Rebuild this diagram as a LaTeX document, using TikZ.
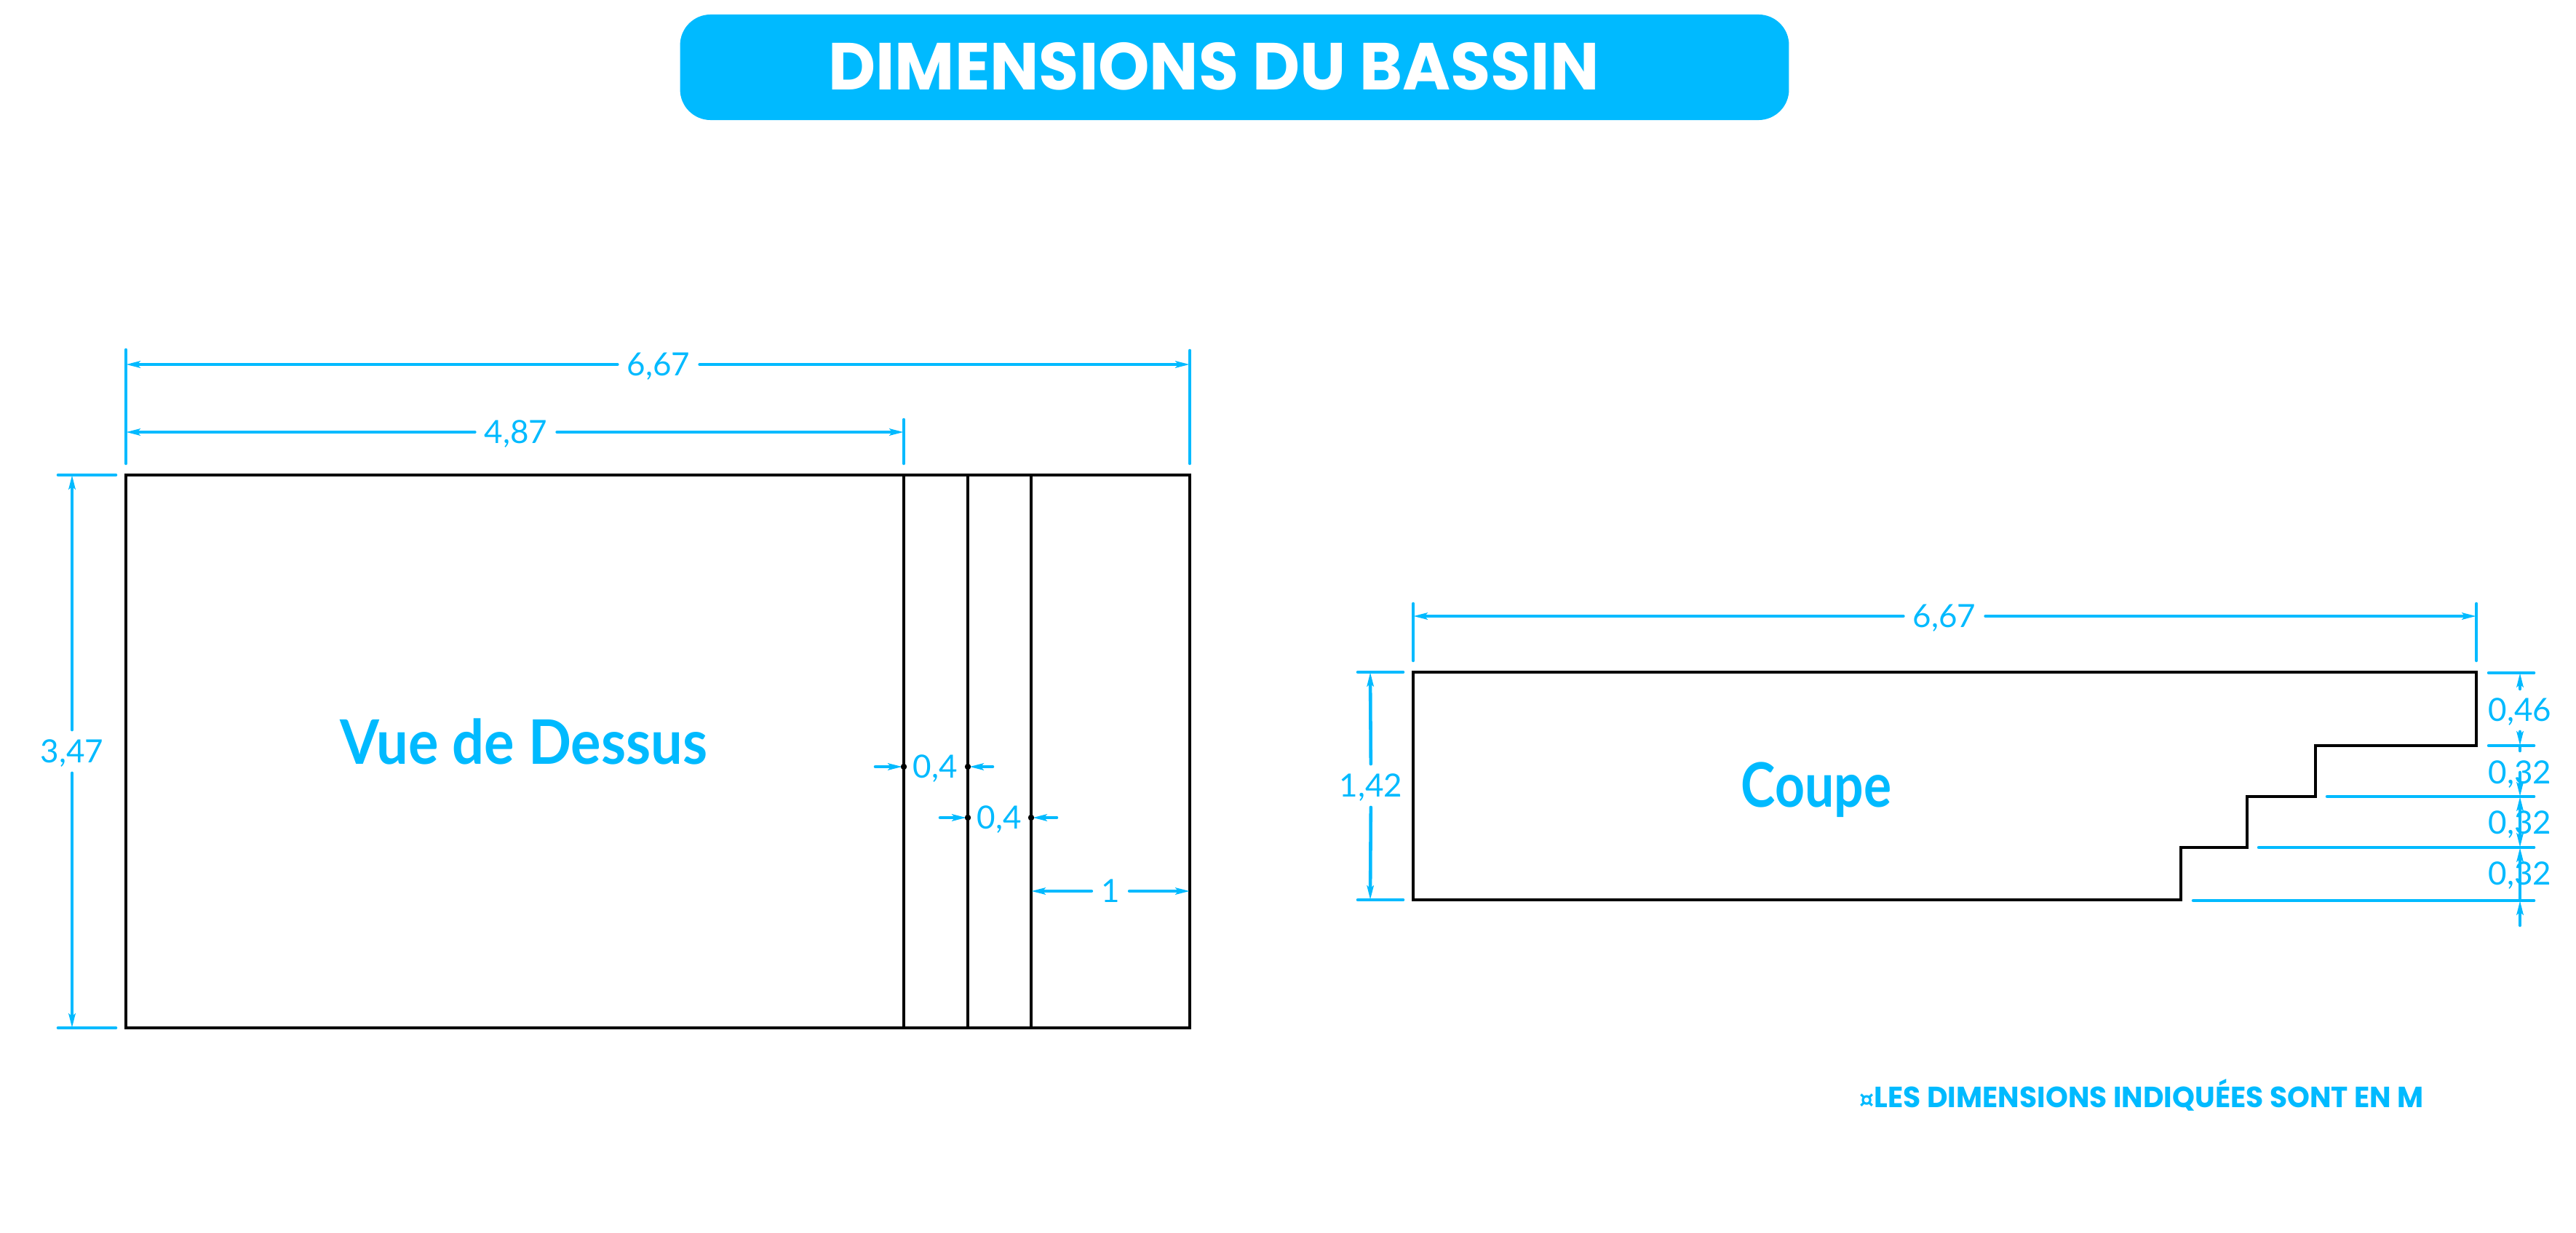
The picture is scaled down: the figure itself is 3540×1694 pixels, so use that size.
\documentclass[tikz,border=0pt]{standalone}
\usepackage{fontspec}
\usepackage{tikz}
\usetikzlibrary{arrows.meta}
\setmainfont{Lato}
\newfontfamily\titlefont[FakeStretch=.98]{Poppins}
\newfontfamily\handfont[FakeStretch=.92]{Lato}
\newfontfamily\symbfont{DejaVu Sans}
\definecolor{bassinblue}{HTML}{00BAFF}
\tikzset{
    bassinline/.style={draw=black,line width=1.15pt,line join=miter},
    dimline/.style={draw=bassinblue,line width=1.3pt,line cap=round},
    dimtip/.style={dimline,-{Stealth[length=5.5pt,width=2.6pt,inset=1pt]}},
    dimlabel/.style={text=bassinblue,font=\fontsize{12.5}{13}\selectfont,text height=8.6pt,text depth=0pt,inner xsep=3.6pt,inner ysep=4pt},
    handlabel/.style={text=bassinblue,font=\handfont\bfseries\fontsize{24}{26}\selectfont,inner sep=0pt},
    titlebox/.style={fill=bassinblue,rounded corners=0.42cm,minimum width=15.23cm,minimum height=1.45cm,inner sep=0pt},
    titlelabel/.style={text=white,font=\titlefont\bfseries\fontsize{26}{28}\selectfont,inner sep=0pt},
    notelabel/.style={text=bassinblue,font=\titlefont\bfseries\fontsize{11.4}{13}\selectfont,inner sep=0pt},
    tickdot/.style={fill=black}
}

\begin{document}
\begin{tikzpicture}[x=0.01cm,y=-0.01cm]
    \useasboundingbox (0,0) rectangle (3540,1694);

    % title
    \node[titlebox] (titlebar) at (1696.5,92.5) {};
    \node[titlelabel] (title) at (1668,91) {DIMENSIONS DU BASSIN};

    % top view
    \draw[bassinline] (173,653) rectangle (1635,1413);
    \draw[bassinline] (1242,653) -- (1242,1413);
    \draw[bassinline] (1330,653) -- (1330,1413);
    \draw[bassinline] (1417,653) -- (1417,1413);
    \node[handlabel] (vue) at (720,1019) {Vue de Dessus};

    % top view, dimensions above
    \draw[dimline] (173,481) -- (173,637);
    \draw[dimline] (1242,577) -- (1242,637);
    \draw[dimline] (1635,482) -- (1635,637);
    \node[dimlabel] (ptotal) at (905,501) {6,67};
    \node[dimlabel] (pdeep) at (709,594) {4,87};
    \draw[dimtip] (ptotal) -- (173,501);
    \draw[dimtip] (ptotal) -- (1635,501);
    \draw[dimtip] (pdeep) -- (173,594);
    \draw[dimtip] (pdeep) -- (1242,594);

    % top view, height on the left
    \draw[dimline] (80,653) -- (159,653);
    \draw[dimline] (80,1413) -- (159,1413);
    \node[dimlabel] (pwidth) at (99,1033) {3,47};
    \draw[dimtip] (pwidth) -- (99,653);
    \draw[dimtip] (pwidth) -- (99,1413);

    % top view, steps
    \node[dimlabel] (pstepa) at (1285,1054) {0,4};
    \node[dimlabel] (pstepb) at (1373,1124) {0,4};
    \node[dimlabel] (pstepc) at (1526,1225) {1};
    \draw[dimtip] (1203,1054) -- (1240,1054);
    \draw[dimtip] (1364,1054) -- (1332,1054);
    \draw[dimtip] (1292,1124) -- (1328,1124);
    \draw[dimtip] (1452,1124) -- (1419,1124);
    \draw[dimtip] (pstepc) -- (1417,1225);
    \draw[dimtip] (pstepc) -- (1635,1225);
    \foreach \px/\py in {1242/1054,1330/1054,1330/1124,1417/1124}
        \fill[tickdot] (\px,\py) circle (1.2pt);

    % section
    \draw[bassinline] (1942,924) -- (3403,924) -- (3403,1025) -- (3182,1025) -- (3182,1095)
        -- (3088,1095) -- (3088,1165) -- (2997,1165) -- (2997,1237) -- (1942,1237) -- cycle;
    \node[handlabel] (coupe) at (2496,1086) {\scalebox{.92}[1]{Coupe}};

    % section, dimensions above and left
    \draw[dimline] (1942,830) -- (1942,908);
    \draw[dimline] (3403,830) -- (3403,908);
    \node[dimlabel] (slength) at (2672,847) {6,67};
    \draw[dimtip] (slength) -- (1942,847);
    \draw[dimtip] (slength) -- (3403,847);
    \draw[dimline] (1866,924) -- (1928,924);
    \draw[dimline] (1866,1237) -- (1928,1237);
    \node[dimlabel] (sdepth) at (1884,1080) {1,42};
    \draw[dimtip] (sdepth) -- (1883,924);
    \draw[dimtip] (sdepth) -- (1883,1237);

    % section, dimensions on the right
    \draw[dimline] (3420,925) -- (3482,925);
    \draw[dimline] (3420,1025) -- (3482,1025);
    \draw[dimline] (3198,1095) -- (3482,1095);
    \draw[dimline] (3104,1165) -- (3482,1165);
    \draw[dimline] (3014,1238) -- (3482,1238);
    \node[dimlabel] (srisea) at (3463,976) {0,46};
    \node[dimlabel] (sriseb) at (3463,1062) {0,32};
    \node[dimlabel] (srisec) at (3463,1131) {0,32};
    \node[dimlabel] (srised) at (3463,1201) {0,32};
    \draw[dimtip] (3463,947) -- (3463,925);
    \draw[dimtip] (srisea) -- (3463,1025);
    \draw[dimline] (3463,1025) -- (3463,1032);
    \draw[dimtip] (sriseb.center) -- (3463,1095);
    \draw[dimtip] (srisec.center) -- (3463,1095);
    \draw[dimtip] (srisec.center) -- (3463,1165);
    \draw[dimtip] (srised.center) -- (3463,1165);
    \draw[dimline] (srised.center) -- (3463,1238);
    \draw[dimtip] (3463,1272) -- (3463,1238);

    % note
    \node[notelabel] (note) at (2943,1505) {{\symbfont\fontsize{9}{11}\selectfont ¤}LES DIMENSIONS INDIQUÉES SONT EN M};

\end{tikzpicture}
\end{document}
